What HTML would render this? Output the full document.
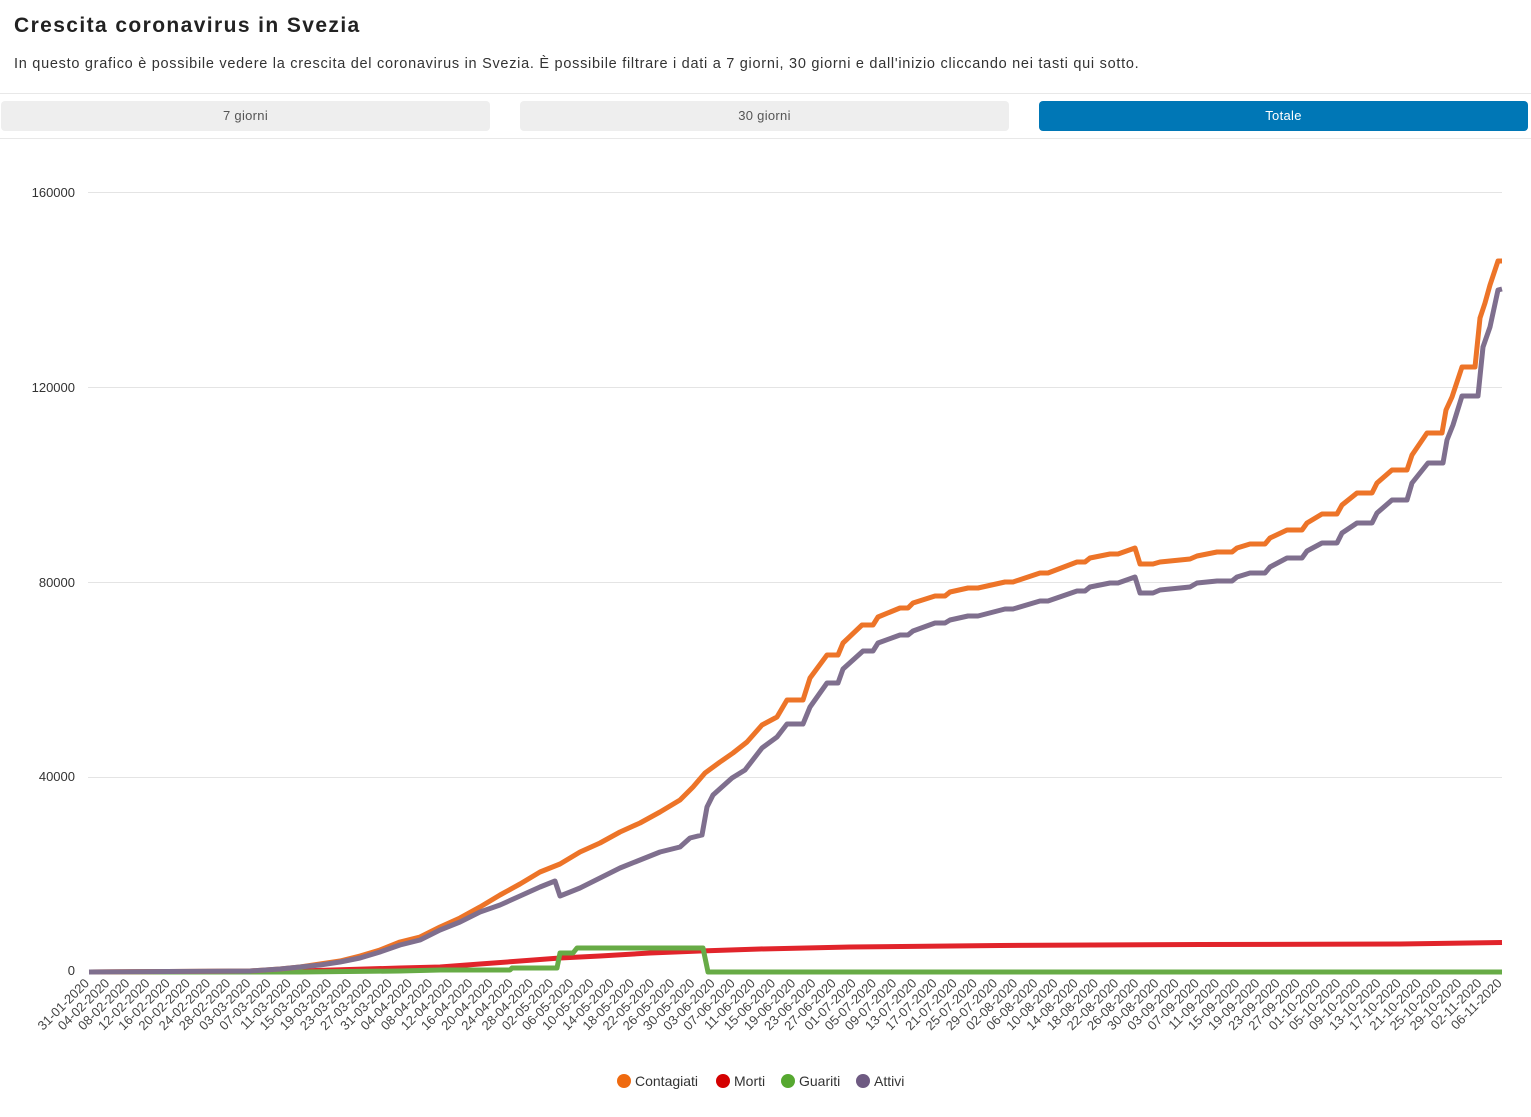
<!DOCTYPE html>
<html><head><meta charset="utf-8"><style>
html,body{margin:0;padding:0;background:#fff;width:1531px;height:1117px;overflow:hidden;font-family:"Liberation Sans",sans-serif;}
h1{position:absolute;left:14px;top:14px;margin:0;font-size:21px;font-weight:bold;color:#222;letter-spacing:1.4px}
.sub{position:absolute;left:14px;top:56px;font-size:14.5px;color:#333;letter-spacing:0.72px;white-space:nowrap}
.hr{position:absolute;left:0;width:1531px;height:1px;background:#e8e8e8}
.btn{position:absolute;top:101px;height:30px;width:489px;border-radius:4px;background:#eeeeee;color:#555;font-size:13px;text-align:center;line-height:30px;letter-spacing:0.3px}
.act{background:#0077b6;color:#fff}
svg{position:absolute;left:0;top:0}
</style></head><body>
<h1>Crescita coronavirus in Svezia</h1>
<div class="sub">In questo grafico è possibile vedere la crescita del coronavirus in Svezia. È possibile filtrare i dati a 7 giorni, 30 giorni e dall'inizio cliccando nei tasti qui sotto.</div>
<div class="hr" style="top:93px"></div>
<div class="hr" style="top:138px"></div>
<div class="btn" style="left:1px">7 giorni</div>
<div class="btn" style="left:520px">30 giorni</div>
<div class="btn act" style="left:1039px">Totale</div>
<svg width="1531" height="1117" xmlns="http://www.w3.org/2000/svg" font-family="Liberation Sans, sans-serif">
<g stroke="#e4e4e4" stroke-width="1">
<line x1="88" y1="192.5" x2="1502" y2="192.5"/>
<line x1="88" y1="387.5" x2="1502" y2="387.5"/>
<line x1="88" y1="582.5" x2="1502" y2="582.5"/>
<line x1="88" y1="777.5" x2="1502" y2="777.5"/>
</g>
<g font-size="13" fill="#333" text-anchor="end">
<text x="75" y="197">160000</text>
<text x="75" y="392">120000</text>
<text x="75" y="587">80000</text>
<text x="75" y="781">40000</text>
<text x="75" y="975">0</text>
</g>
<g fill="none" stroke-width="5" stroke-linejoin="round">
<polyline stroke="#e1242b" points="89,972 300,971 400,968 440,967 480,964 520,961 560,958 600,956 650,953 700,951 760,949 850,947 1000,945.5 1200,944.5 1400,944 1502,942.5"/>
<polyline stroke="#67ab46" points="89,972 300,972 400,971 440,970 510,970 512,968 557,968 560,953 573,953 577,948 703,948 708,972 1502,972"/>
<polyline stroke="#ed7428" points="89,972 250,971 280,969 300,967 320,964 340,961 360,956 380,950 400,942 420,937 440,927 460,918 480,907 500,895 520,884 540,872 560,864 580,852 600,843 620,832 640,823 660,812 680,800 693,787 705,773 720,762 733,753 747,742 762,725 777,717 787,700 803,700 810,678 827,655 838,655 843,643 862,625 873,625 878,617 900,608 908,608 913,603 935,596 945,596 950,592 968,588 978,588 1005,582 1013,582 1040,573 1048,573 1077,562 1085,562 1090,558 1110,554 1118,554 1135,548 1140,564 1153,564 1160,562 1190,559 1197,556 1217,552 1232,552 1237,548 1250,544 1265,544 1270,538 1287,530 1302,530 1307,523 1322,514 1337,514 1342,505 1357,493 1372,493 1377,483 1392,470 1407,470 1412,455 1427,433 1442,433 1446,410 1452,397 1462,367 1475,367 1480,318 1485,303 1490,285 1498,261 1502,261"/>
<polyline stroke="#7f6f8e" points="89,972 250,971 280,969 300,967 320,965 340,962 360,958 380,952 400,945 420,940 440,930 460,922 480,912 500,905 520,896 540,887 555,881 560,896 580,888 600,878 620,868 640,860 660,852 680,847 690,838 702,835 707,807 713,795 732,778 745,770 762,748 777,737 787,724 803,724 810,707 827,683 838,683 843,669 863,651 873,651 878,643 900,635 908,635 913,631 935,623 945,623 950,620 968,616 978,616 1005,609 1013,609 1040,601 1048,601 1077,591 1085,591 1090,587 1110,583 1118,583 1135,577 1140,593 1153,593 1160,590 1190,587 1197,583 1217,581 1232,581 1237,577 1250,573 1265,573 1270,567 1287,558 1302,558 1307,551 1322,543 1337,543 1342,533 1357,523 1372,523 1377,513 1392,500 1407,500 1412,483 1428,463 1443,463 1447,440 1453,425 1462,396 1478,396 1483,347 1490,327 1498,290 1502,289"/>
</g>
<g font-size="13" fill="#444" text-anchor="end" transform="translate(-3,1)">
<text transform="translate(93,983) rotate(-45)">31-01-2020</text>
<text transform="translate(113.2,983) rotate(-45)">04-02-2020</text>
<text transform="translate(133.4,983) rotate(-45)">08-02-2020</text>
<text transform="translate(153.5,983) rotate(-45)">12-02-2020</text>
<text transform="translate(173.7,983) rotate(-45)">16-02-2020</text>
<text transform="translate(193.9,983) rotate(-45)">20-02-2020</text>
<text transform="translate(214.1,983) rotate(-45)">24-02-2020</text>
<text transform="translate(234.3,983) rotate(-45)">28-02-2020</text>
<text transform="translate(254.4,983) rotate(-45)">03-03-2020</text>
<text transform="translate(274.6,983) rotate(-45)">07-03-2020</text>
<text transform="translate(294.8,983) rotate(-45)">11-03-2020</text>
<text transform="translate(315,983) rotate(-45)">15-03-2020</text>
<text transform="translate(335.2,983) rotate(-45)">19-03-2020</text>
<text transform="translate(355.3,983) rotate(-45)">23-03-2020</text>
<text transform="translate(375.5,983) rotate(-45)">27-03-2020</text>
<text transform="translate(395.7,983) rotate(-45)">31-03-2020</text>
<text transform="translate(415.9,983) rotate(-45)">04-04-2020</text>
<text transform="translate(436.1,983) rotate(-45)">08-04-2020</text>
<text transform="translate(456.2,983) rotate(-45)">12-04-2020</text>
<text transform="translate(476.4,983) rotate(-45)">16-04-2020</text>
<text transform="translate(496.6,983) rotate(-45)">20-04-2020</text>
<text transform="translate(516.8,983) rotate(-45)">24-04-2020</text>
<text transform="translate(537,983) rotate(-45)">28-04-2020</text>
<text transform="translate(557.1,983) rotate(-45)">02-05-2020</text>
<text transform="translate(577.3,983) rotate(-45)">06-05-2020</text>
<text transform="translate(597.5,983) rotate(-45)">10-05-2020</text>
<text transform="translate(617.7,983) rotate(-45)">14-05-2020</text>
<text transform="translate(637.9,983) rotate(-45)">18-05-2020</text>
<text transform="translate(658,983) rotate(-45)">22-05-2020</text>
<text transform="translate(678.2,983) rotate(-45)">26-05-2020</text>
<text transform="translate(698.4,983) rotate(-45)">30-05-2020</text>
<text transform="translate(718.6,983) rotate(-45)">03-06-2020</text>
<text transform="translate(738.8,983) rotate(-45)">07-06-2020</text>
<text transform="translate(758.9,983) rotate(-45)">11-06-2020</text>
<text transform="translate(779.1,983) rotate(-45)">15-06-2020</text>
<text transform="translate(799.3,983) rotate(-45)">19-06-2020</text>
<text transform="translate(819.5,983) rotate(-45)">23-06-2020</text>
<text transform="translate(839.7,983) rotate(-45)">27-06-2020</text>
<text transform="translate(859.8,983) rotate(-45)">01-07-2020</text>
<text transform="translate(880,983) rotate(-45)">05-07-2020</text>
<text transform="translate(900.2,983) rotate(-45)">09-07-2020</text>
<text transform="translate(920.4,983) rotate(-45)">13-07-2020</text>
<text transform="translate(940.6,983) rotate(-45)">17-07-2020</text>
<text transform="translate(960.7,983) rotate(-45)">21-07-2020</text>
<text transform="translate(980.9,983) rotate(-45)">25-07-2020</text>
<text transform="translate(1001.1,983) rotate(-45)">29-07-2020</text>
<text transform="translate(1021.3,983) rotate(-45)">02-08-2020</text>
<text transform="translate(1041.5,983) rotate(-45)">06-08-2020</text>
<text transform="translate(1061.6,983) rotate(-45)">10-08-2020</text>
<text transform="translate(1081.8,983) rotate(-45)">14-08-2020</text>
<text transform="translate(1102,983) rotate(-45)">18-08-2020</text>
<text transform="translate(1122.2,983) rotate(-45)">22-08-2020</text>
<text transform="translate(1142.4,983) rotate(-45)">26-08-2020</text>
<text transform="translate(1162.5,983) rotate(-45)">30-08-2020</text>
<text transform="translate(1182.7,983) rotate(-45)">03-09-2020</text>
<text transform="translate(1202.9,983) rotate(-45)">07-09-2020</text>
<text transform="translate(1223.1,983) rotate(-45)">11-09-2020</text>
<text transform="translate(1243.3,983) rotate(-45)">15-09-2020</text>
<text transform="translate(1263.4,983) rotate(-45)">19-09-2020</text>
<text transform="translate(1283.6,983) rotate(-45)">23-09-2020</text>
<text transform="translate(1303.8,983) rotate(-45)">27-09-2020</text>
<text transform="translate(1324,983) rotate(-45)">01-10-2020</text>
<text transform="translate(1344.2,983) rotate(-45)">05-10-2020</text>
<text transform="translate(1364.3,983) rotate(-45)">09-10-2020</text>
<text transform="translate(1384.5,983) rotate(-45)">13-10-2020</text>
<text transform="translate(1404.7,983) rotate(-45)">17-10-2020</text>
<text transform="translate(1424.9,983) rotate(-45)">21-10-2020</text>
<text transform="translate(1445.1,983) rotate(-45)">25-10-2020</text>
<text transform="translate(1465.2,983) rotate(-45)">29-10-2020</text>
<text transform="translate(1485.4,983) rotate(-45)">02-11-2020</text>
<text transform="translate(1505.6,983) rotate(-45)">06-11-2020</text>
</g>
<g font-size="14" fill="#333">
<circle cx="624" cy="1081" r="7" fill="#ef6a0f"/><text x="635" y="1086">Contagiati</text>
<circle cx="723" cy="1081" r="7" fill="#d40000"/><text x="734" y="1086">Morti</text>
<circle cx="788" cy="1081" r="7" fill="#56a830"/><text x="799" y="1086">Guariti</text>
<circle cx="863" cy="1081" r="7" fill="#6e5a82"/><text x="874" y="1086">Attivi</text>
</g>
</svg>
</body></html>
